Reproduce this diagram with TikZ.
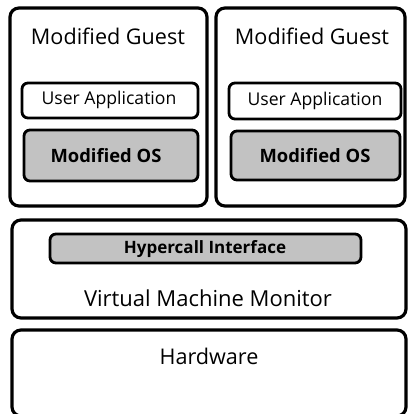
\documentclass[tikz,border=0pt]{standalone}
\usepackage{fontspec}
\setmainfont{Open Sans}
\begin{document}
\begin{tikzpicture}[x=1pt,y=-1pt,
  layer/.style={draw=black,line width=3.2pt,rounded corners=9pt},
  inner/.style={draw=black,line width=2.8pt,rounded corners=6pt},
  shaded/.style={inner,fill=gray!48},
  title/.style={font=\fontsize{21.6}{24}\selectfont},
  label/.style={font=\fontsize{17.6}{20}\selectfont},
  boldlabel/.style={font=\bfseries\fontsize{18.4}{20}\selectfont}]
\useasboundingbox (0,0) rectangle (408,414);
% two modified guests
\draw[layer] (10,8) rectangle (207,206);
\draw[layer] (216,8) rectangle (405,206);
\node[title] (g1) at (108,36) {Modified Guest};
\node[title] (g2) at (312,36) {Modified Guest};
\draw[inner] (22,83) rectangle (198,118);
\node[label] (ua1) at (109,100) {User Application};
\draw[shaded] (24,130) rectangle (198,181);
\node[boldlabel] (os1) at (106,156) {Modified OS};
\draw[inner] (229,83) rectangle (401,119);
\node[label] (ua2) at (315,101) {User Application};
\draw[shaded] (231,131) rectangle (400,180);
\node[boldlabel] (os2) at (315,156) {Modified OS};
% virtual machine monitor
\draw[layer] (12,220) rectangle (406,318);
\draw[shaded] (50,234) rectangle (361,263);
\node[font=\bfseries\fontsize{17}{20}\selectfont] (hc) at (205,249) {Hypercall Interface};
\node[title,font=\fontsize{22}{24}\selectfont] (vmm) at (208,298) {Virtual Machine Monitor};
% hardware
\draw[layer] (12,330) rectangle (406,416);
\node[title] (hw) at (209,356) {Hardware};
\end{tikzpicture}
\end{document}
